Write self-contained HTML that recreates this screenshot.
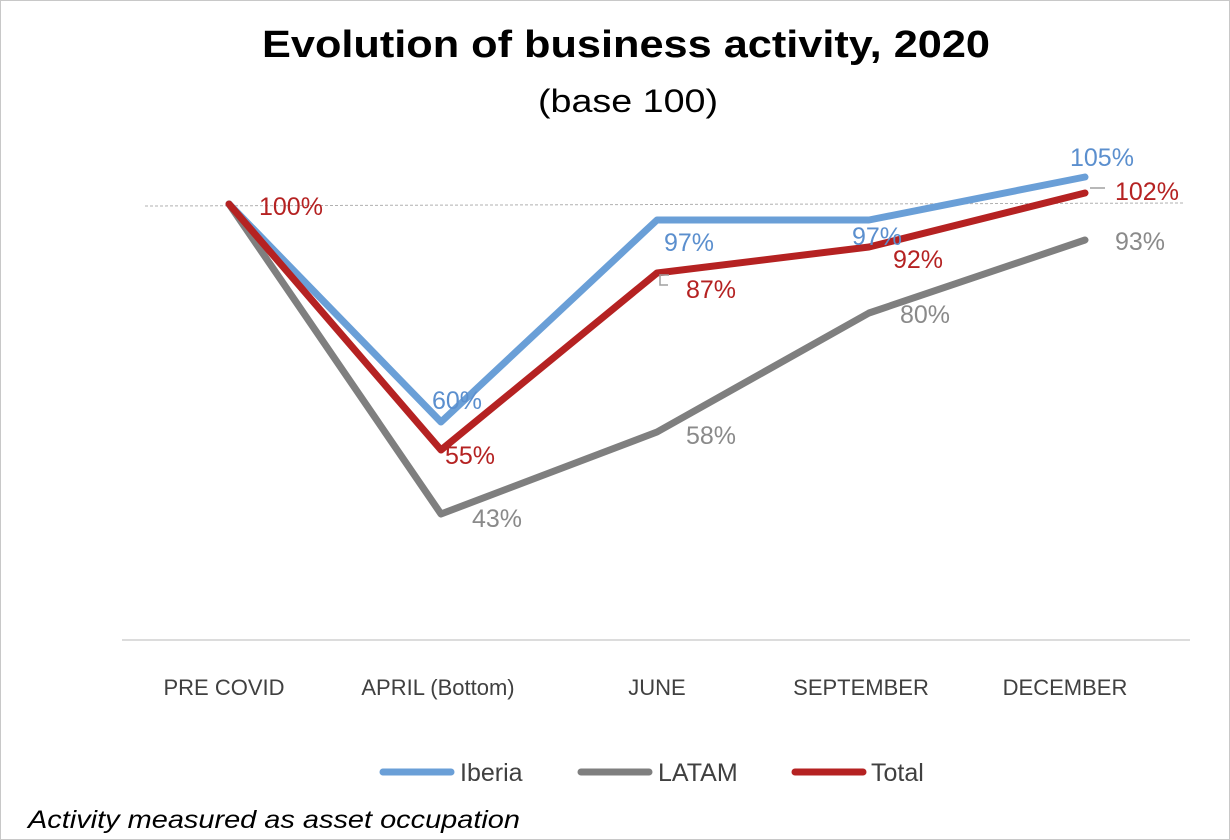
<!DOCTYPE html>
<html><head><meta charset="utf-8"><style>
body{margin:0;background:#fff;}
svg{display:block;font-family:"Liberation Sans",sans-serif;}
</style></head><body>
<svg width="1230" height="840" viewBox="0 0 1230 840">
<rect x="0.5" y="0.5" width="1229" height="839" fill="#fff" stroke="#c8c8c8"/>
<text x="262" y="57" font-size="38" font-weight="bold" fill="#000" textLength="728" lengthAdjust="spacingAndGlyphs">Evolution of business activity, 2020</text>
<text x="538" y="112" font-size="32" fill="#000" textLength="180" lengthAdjust="spacingAndGlyphs">(base 100)</text>
<line x1="145" y1="206" x2="1185" y2="203" stroke="#b0b0b0" stroke-width="1" stroke-dasharray="3,2"/>
<line x1="122" y1="640" x2="1190" y2="640" stroke="#d0d0d0" stroke-width="1.5"/>
<g fill="none" stroke-width="7" stroke-linejoin="round" stroke-linecap="round">
<polyline stroke="#7f7f7f" points="229,204 441,514 657,432 869,313 1085,240"/>
<polyline stroke="#6a9fd7" points="229,204 441,422 657,220 869,220 1085,177"/>
<polyline stroke="#b52222" points="229,204 441,450 657,273 869,247 1085,193"/>
</g>
<g font-size="25">
<text x="259" y="215" fill="#b52222">100%</text>
<text x="432" y="409" fill="#5b8fce">60%</text>
<text x="445" y="464" fill="#b52222">55%</text>
<text x="472" y="527" fill="#8a8a8a">43%</text>
<text x="664" y="251" fill="#5b8fce">97%</text>
<text x="686" y="298" fill="#b52222">87%</text>
<text x="686" y="444" fill="#8a8a8a">58%</text>
<text x="852" y="245" fill="#5b8fce">97%</text>
<text x="893" y="268" fill="#b52222">92%</text>
<text x="900" y="323" fill="#8a8a8a">80%</text>
<text x="1070" y="166" fill="#5b8fce">105%</text>
<text x="1115" y="200" fill="#b52222">102%</text>
<text x="1115" y="250" fill="#8a8a8a">93%</text>
</g>
<line x1="1090" y1="188" x2="1105" y2="188" stroke="#a0a0a0" stroke-width="1.5"/>
<polyline points="669,275 660,275 660,285 668,285" fill="none" stroke="#a0a0a0" stroke-width="1.5"/>
<g font-size="22" fill="#404040" text-anchor="middle">
<text x="224" y="695">PRE COVID</text>
<text x="438" y="695">APRIL (Bottom)</text>
<text x="657" y="695">JUNE</text>
<text x="861" y="695">SEPTEMBER</text>
<text x="1065" y="695">DECEMBER</text>
</g>
<g stroke-width="7" stroke-linecap="round">
<line x1="383" y1="772" x2="451" y2="772" stroke="#6a9fd7"/>
<line x1="581" y1="772" x2="649" y2="772" stroke="#7f7f7f"/>
<line x1="795" y1="772" x2="863" y2="772" stroke="#b52222"/>
</g>
<g font-size="25" fill="#404040">
<text x="460" y="781">Iberia</text>
<text x="658" y="781">LATAM</text>
<text x="871" y="781">Total</text>
</g>
<text x="28" y="828" font-size="25" font-style="italic" fill="#000" textLength="492" lengthAdjust="spacingAndGlyphs">Activity measured as asset occupation</text>
</svg>
</body></html>
